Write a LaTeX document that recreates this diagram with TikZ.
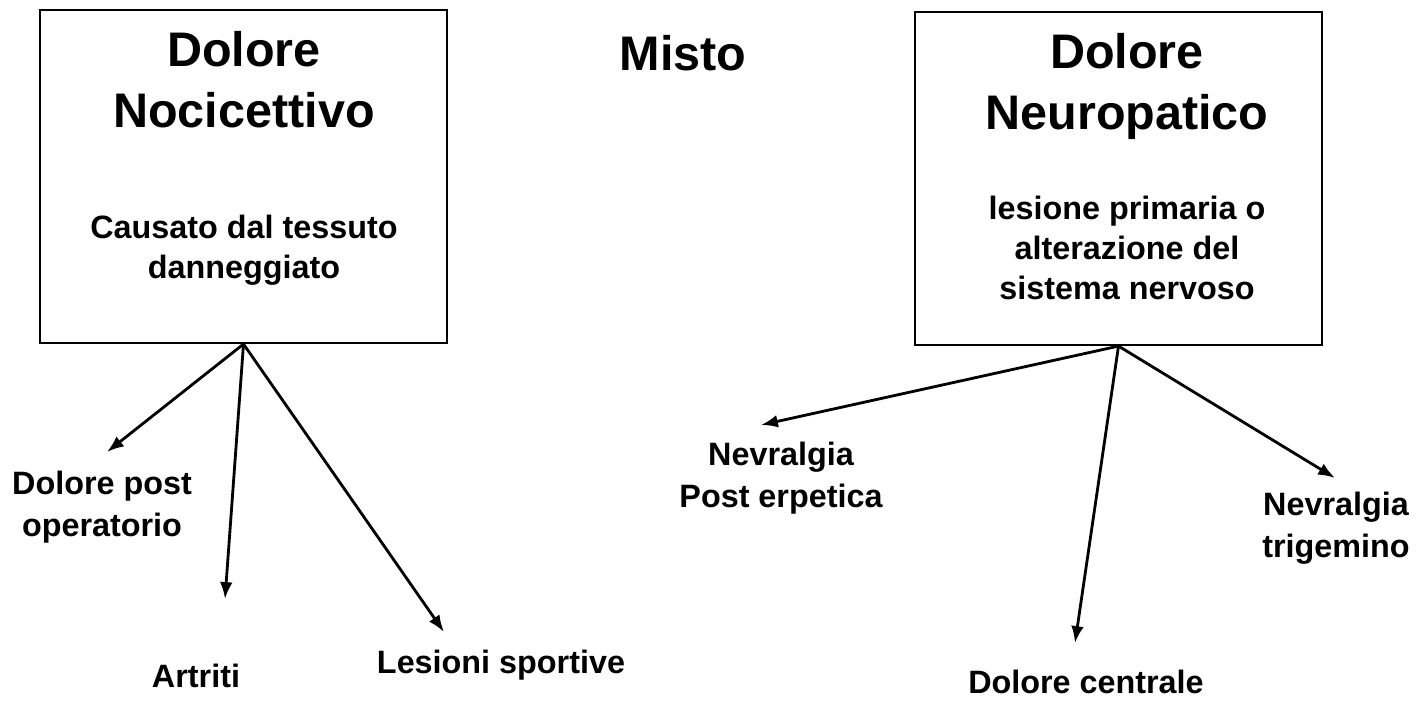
\documentclass[tikz,border=0pt]{standalone}
\usepackage{fontspec}
\setmainfont{Liberation Sans}
\usetikzlibrary{arrows.meta}
\tikzset{
    every node/.style={inner sep=0mm, align=center, font=\bfseries}
}
\tikzset{big/.style={font=\fontsize{34.5}{43.4}\selectfont\bfseries}}
\tikzset{desc/.style={font=\fontsize{23}{28.5}\selectfont\bfseries}}
\tikzset{lab/.style={font=\fontsize{23}{29.9}\selectfont\bfseries}}
\tikzset{box/.style={draw, line width=1.5pt, minimum width=10.175cm, minimum height=8.325cm}}
\tikzset{arr/.style={line width=2pt, -{Latex[length=12pt,width=9pt]}}}

\begin{document}
\begin{tikzpicture}[x=0.025cm, y=-0.025cm]
        \useasboundingbox (0,0) rectangle (1423,701);
        \node (noci) [box] at (243.5, 176.5) {};
        \node (neuro) [box] at (1118.5, 178.5) {};
        \node (nocititle) [big] at (244, 80) {Dolore\\Nocicettivo};
        \node (nocidesc) [desc] at (244, 250) {Causato dal tessuto\\danneggiato};
        \node (neurotitle) [big] at (1127, 86) {Dolore\\Neuropatico};
        \node (neurodesc) [desc] at (1127, 248) {lesione primaria o\\alterazione del\\sistema nervoso};
        \node (misto) [big] at (683, 53) {Misto};
        \node (postop) [lab] at (102, 507) {Dolore post\\operatorio};
        \node (artriti) [lab] at (196, 676) {Artriti};
        \node (sport) [lab] at (501, 665) {Lesioni sportive};
        \node (erpetica) [lab] at (781, 478) {Nevralgia\\Post erpetica};
        \node (centrale) [lab] at (1086, 682) {Dolore centrale};
        \node (trigemino) [lab] at (1336, 528) {Nevralgia\\trigemino};
        \coordinate (t0) at (107, 452);
        \coordinate (t1) at (225, 599);
        \coordinate (t2) at (444, 632);
        \coordinate (t3) at (761, 425);
        \coordinate (t4) at (1075, 643);
        \coordinate (t5) at (1335, 478);
        \draw (noci.south) edge [arr] (t0);
        \draw (noci.south) edge [arr] (t1);
        \draw (noci.south) edge [arr] (t2);
        \draw (neuro.south) edge [arr] (t3);
        \draw (neuro.south) edge [arr] (t4);
        \draw (neuro.south) edge [arr] (t5);
\end{tikzpicture}
\end{document}
